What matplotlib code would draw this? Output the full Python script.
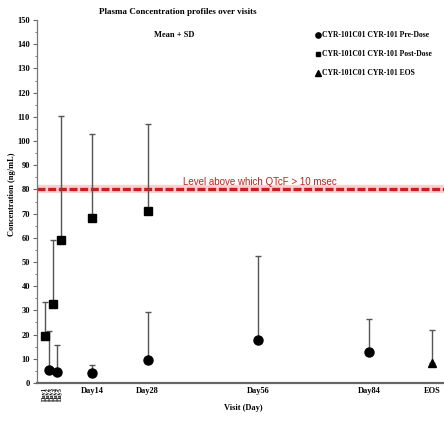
import matplotlib.pyplot as plt
from matplotlib.ticker import MultipleLocator

# visit days (x position in days) and mean / sd values
pre_day = [3, 5, 14, 28, 56, 84]
pre_mean = [5.5, 4.5, 4.2, 9.7, 17.6, 12.6]
pre_top = [21.5, 15.5, 7.5, 29.3, 52.3, 26.5]

post_day = [2, 4, 6, 14, 28]
post_mean = [19.5, 32.5, 59.3, 68.3, 71.0]
post_top = [33.3, 59.0, 110.5, 103.0, 107.0]

eos_day = [100]
eos_mean = [8.2]
eos_top = [22.0]

tick_days = [2, 3, 4, 5, 6, 14, 28, 56, 84, 100]
tick_labels = ["Day1", "Day2", "Day3", "Day4", "Day5", "Day14", "Day28", "Day56", "Day84", "EOS"]

qtc_level = 80

serif = "Liberation Serif"

fig = plt.figure(figsize=(4.44, 4.23), dpi=100)
ax = fig.add_axes([0.083, 0.0946, 0.917, 0.858])


def draw(days, mean, top, marker, size):
    up = [t - m for t, m in zip(top, mean)]
    lo = [0] * len(mean)
    ax.errorbar(days, mean, yerr=[lo, up], fmt="none", ecolor="#555555",
                elinewidth=1, capsize=2.2, capthick=1, zorder=2)
    ax.plot(days, mean, linestyle="none", marker=marker, color="black",
            markersize=size, zorder=3)


draw(pre_day, pre_mean, pre_top, "o", 6.5)
draw(post_day, post_mean, post_top, "s", 5.5)
draw(eos_day, eos_mean, eos_top, "^", 6)

# threshold line
ax.axhline(qtc_level, color="#f8d0d0", linewidth=6, zorder=1)
ax.axhline(qtc_level, color="#c81e1e", linewidth=2.4, dashes=(2.4, 0.8), zorder=1)
ax.text(37, qtc_level + 1.2, "Level above which QTcF > 10 msec", color="#c81e1e",
        fontsize=7, ha="left", va="bottom", family="Liberation Sans")

ax.set_xlim(0, 103)
ax.set_ylim(0, 150)
ax.yaxis.set_major_locator(MultipleLocator(10))
ax.yaxis.set_minor_locator(MultipleLocator(5))
ax.set_xticks(tick_days)
ax.set_xticklabels(tick_labels, family=serif, fontweight="bold", fontsize=6)
for lab in ax.get_xticklabels()[:5]:
    lab.set_rotation(90)
    lab.set_fontsize(4.5)
for lab in ax.get_yticklabels():
    lab.set_family(serif)
    lab.set_fontweight("bold")
    lab.set_fontsize(6)

ax.tick_params(axis="y", which="major", length=3, width=0.8, color="#666666", pad=2)
ax.tick_params(axis="y", which="minor", length=1.5, width=0.6, color="#666666")
ax.tick_params(axis="x", length=0, pad=3)

ax.spines["top"].set_visible(False)
ax.spines["right"].set_visible(False)
ax.spines["left"].set_color("#777777")
ax.spines["left"].set_linewidth(0.9)
ax.spines["bottom"].set_color("#666666")
ax.spines["bottom"].set_linewidth(1.6)

fig.text(0.40, 0.972, "Plasma Concentration profiles over visits", ha="center", va="center",
         family=serif, fontweight="bold", fontsize=6.5)
fig.text(0.392, 0.918, "Mean + SD", ha="center", va="center",
         family=serif, fontweight="bold", fontsize=6)
fig.text(0.027, 0.54, "Concentration (ng/mL)", rotation=90, ha="center", va="center",
         family=serif, fontweight="bold", fontsize=6)
fig.text(0.547, 0.035, "Visit (Day)", ha="center", va="center",
         family=serif, fontweight="bold", fontsize=6)

# legend
leg_items = [("o", 3.8, "CYR-101C01 CYR-101 Pre-Dose"),
             ("s", 3.5, "CYR-101C01 CYR-101 Post-Dose"),
             ("^", 4, "CYR-101C01 CYR-101 EOS")]
for i, (mk, ms, txt) in enumerate(leg_items):
    yy = 0.918 - i * 0.045
    fig.lines.append(plt.Line2D([0.716], [yy], marker=mk, color="black", markersize=ms,
                                linestyle="none", transform=fig.transFigure))
    fig.text(0.726, yy, txt, ha="left", va="center", family=serif,
             fontweight="bold", fontsize=5.5)

fig.savefig("out.png", dpi=100)
